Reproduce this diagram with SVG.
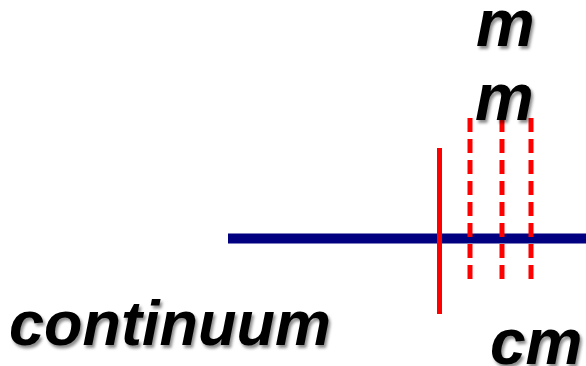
<svg xmlns="http://www.w3.org/2000/svg" width="586" height="366" viewBox="0 0 586 366">
<defs>
<filter id="sh" x="-10%" y="-20%" width="130%" height="150%">
<feDropShadow dx="2" dy="3" stdDeviation="1.5" flood-color="#000" flood-opacity="0.45"/>
</filter>
</defs>
<style>
.t{font-family:"Liberation Sans",Arial,sans-serif;font-weight:bold;font-style:italic;fill:#000;filter:url(#sh)}
.dash{stroke:#ff0000;stroke-width:5;stroke-dasharray:14 7;fill:none}
</style>
<g id="connectors">
<line id="axis" x1="228" y1="238.5" x2="586" y2="238.5" stroke="#000080" stroke-width="10"/>
<line id="solid" x1="439.5" y1="148" x2="439.5" y2="314" stroke="#ff0000" stroke-width="5"/>
<line class="dash" x1="470" y1="118" x2="470" y2="283"/>
<line class="dash" x1="502" y1="118" x2="502" y2="283"/>
<line class="dash" x1="531" y1="118" x2="531" y2="283"/>
</g>
<g id="label-m1"><text class="t" x="476" y="46" font-size="66">m</text></g>
<g id="label-m2"><text class="t" x="475" y="120" font-size="66">m</text></g>
<g id="label-continuum"><text class="t" x="9" y="345" font-size="63">continuum</text></g>
<g id="label-cm"><text class="t" x="490" y="364" font-size="64">cm</text></g>
</svg>
